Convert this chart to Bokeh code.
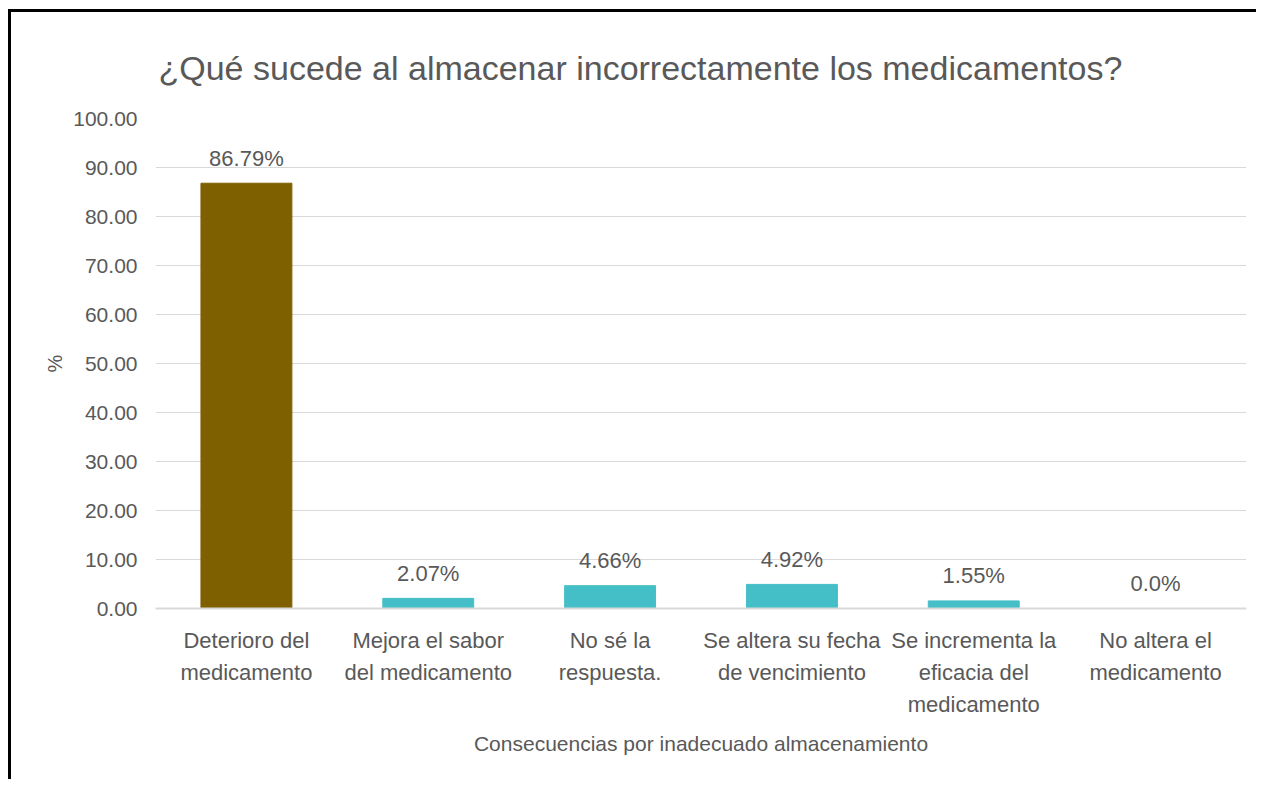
from bokeh.plotting import figure
from bokeh.models import ColumnDataSource, FactorRange, Range1d, LabelSet, FixedTicker, PrintfTickFormatter
from bokeh.core.properties import value
from bokeh.embed import file_html
from bokeh.resources import INLINE

# ---- data ----
categories = [
    "Deterioro del\nmedicamento",
    "Mejora el sabor\ndel medicamento",
    "No sé la\nrespuesta.",
    "Se altera su fecha\nde vencimiento",
    "Se incrementa la\neficacia del\nmedicamento",
    "No altera el\nmedicamento",
]
values = [86.79, 2.07, 4.66, 4.92, 1.55, 0.0]
value_labels = ["86.79%", "2.07%", "4.66%", "4.92%", "1.55%", "0.0%"]
y_ticks = [0, 10, 20, 30, 40, 50, 60, 70, 80, 90, 100]

title_text = "¿Qué sucede al almacenar incorrectamente los medicamentos?"
x_title = "Consecuencias por inadecuado almacenamiento"
y_title = "%"

# ---- style ----
BROWN = "#7F6000"
TEAL = "#45BFC7"
bar_colors = [BROWN] + [TEAL] * (len(categories) - 1)
TXT = "#595959"
GRID = "#d9d9d9"
FONT = "Liberation Sans"

source = ColumnDataSource(dict(cat=categories, val=values, lab=value_labels, color=bar_colors))

p = figure(
    x_range=FactorRange(*categories, range_padding=0),
    y_range=Range1d(0, 100),
    width=1248, height=770,
    output_backend="svg", toolbar_location=None, tools="",
    min_border_left=144, min_border_right=13, min_border_top=106, min_border_bottom=174,
)
p.styles = {"border-top": "3px solid black", "border-left": "3px solid black",
            "box-sizing": "border-box", "margin-left": "8px", "margin-top": "9px"}

p.title.text = title_text
p.title.text_font = FONT
p.title.text_font_size = "34px"
p.title.text_font_style = "normal"
p.title.text_color = TXT
p.title.align = "left"
p.title.offset = 3
p.title.standoff = 63

p.vbar(x="cat", top="val", width=0.5, color="color", source=source)

labels = LabelSet(x="cat", y="val", text="lab", source=source, y_offset=25,
                  text_align="center", text_baseline="middle",
                  text_font=value(FONT), text_font_size="22px", text_color=TXT)
p.add_layout(labels)

p.outline_line_color = None
p.xgrid.grid_line_color = None
p.ygrid.grid_line_color = GRID
p.ygrid.grid_line_width = 1

p.yaxis.ticker = FixedTicker(ticks=y_ticks)
p.yaxis.formatter = PrintfTickFormatter(format="%.2f")
p.yaxis.axis_line_color = None
p.yaxis.major_tick_line_color = None
p.yaxis.minor_tick_line_color = None
p.yaxis.major_label_standoff = 12
p.yaxis.major_label_text_font = FONT
p.yaxis.major_label_text_font_size = "21px"
p.yaxis.major_label_text_color = TXT
p.yaxis.axis_label = y_title
p.yaxis.axis_label_text_font = FONT
p.yaxis.axis_label_text_font_size = "20px"
p.yaxis.axis_label_text_font_style = "normal"
p.yaxis.axis_label_text_color = TXT
p.yaxis.axis_label_standoff = 4

p.xaxis.axis_line_color = GRID
p.xaxis.axis_line_width = 2
p.xaxis.major_tick_line_color = None
p.xaxis.minor_tick_line_color = None
p.xaxis.major_label_standoff = 13
p.xaxis.major_label_text_font = FONT
p.xaxis.major_label_text_font_size = "22px"
p.xaxis.major_label_text_color = TXT
p.xaxis.major_label_text_line_height = 1.28
p.xaxis.axis_label = x_title
p.xaxis.axis_label_text_font = FONT
p.xaxis.axis_label_text_font_size = "21px"
p.xaxis.axis_label_text_font_style = "normal"
p.xaxis.axis_label_text_color = TXT
p.xaxis.axis_label_standoff = 12

open("out.html", "w").write(file_html(p, INLINE))
